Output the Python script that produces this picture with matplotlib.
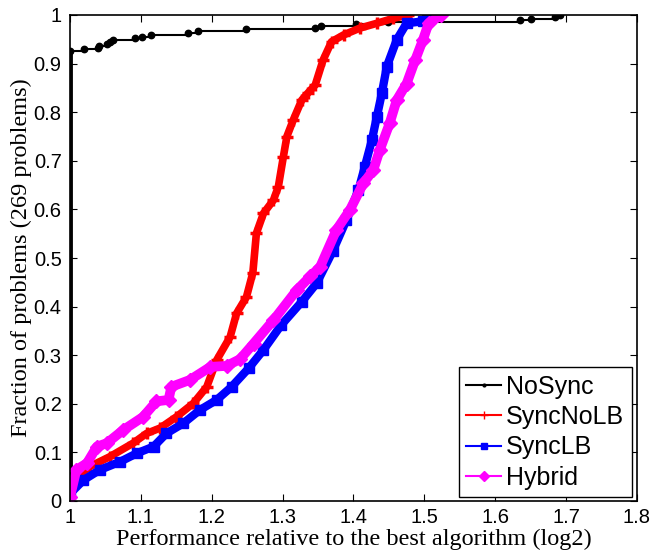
import matplotlib
matplotlib.use("Agg")
import matplotlib.pyplot as plt
from matplotlib.lines import Line2D

n_problems = 269

# NoSync: ratio where each problem gets solved, and the running count
nosync_x = [1.0, 1.0, 1.020, 1.039, 1.041, 1.052, 1.056, 1.060, 1.092, 1.101,
            1.114, 1.167, 1.181, 1.249, 1.345, 1.354, 1.403, 1.448, 1.635,
            1.650, 1.684, 1.691]
nosync_n = [1, 249, 250, 251, 252, 253, 254, 255, 256, 257, 258, 259, 260,
            261, 262, 263, 264, 265, 266, 267, 268, 269]

syncnolb_x = [1.000, 1.010, 1.028, 1.056, 1.089, 1.108, 1.127, 1.150, 1.174,
              1.193, 1.207, 1.226, 1.235, 1.249, 1.258, 1.263, 1.273, 1.287,
              1.294, 1.301, 1.306, 1.315, 1.327, 1.336, 1.346, 1.357, 1.369,
              1.386, 1.409, 1.433, 1.456, 1.477]
syncnolb_y = [0.030, 0.050, 0.071, 0.091, 0.119, 0.139, 0.150, 0.173, 0.201,
              0.235, 0.290, 0.338, 0.386, 0.420, 0.470, 0.551, 0.592, 0.619,
              0.647, 0.708, 0.750, 0.784, 0.825, 0.840, 0.856, 0.907, 0.945,
              0.959, 0.973, 0.983, 0.993, 1.000]

synclb_x = [1.000, 1.019, 1.042, 1.071, 1.094, 1.118, 1.136, 1.160, 1.183,
            1.207, 1.228, 1.252, 1.273, 1.298, 1.327, 1.348, 1.371, 1.390,
            1.407, 1.416, 1.426, 1.433, 1.440, 1.447, 1.461, 1.475, 1.498,
            1.503, 1.508]
synclb_y = [0.015, 0.043, 0.064, 0.081, 0.098, 0.112, 0.139, 0.160, 0.187,
            0.208, 0.235, 0.273, 0.311, 0.362, 0.410, 0.448, 0.515, 0.578,
            0.640, 0.688, 0.743, 0.791, 0.839, 0.894, 0.949, 0.983, 0.987,
            0.996, 1.000]

hybrid_x = [1.000, 1.009, 1.024, 1.038, 1.052, 1.075, 1.103, 1.122, 1.139,
            1.143, 1.169, 1.198, 1.221, 1.240, 1.259, 1.287, 1.320, 1.339,
            1.353, 1.376, 1.395, 1.414, 1.428, 1.437, 1.451, 1.461, 1.475,
            1.487, 1.498, 1.506, 1.524]
hybrid_y = [0.008, 0.064, 0.078, 0.112, 0.119, 0.146, 0.173, 0.205, 0.208,
            0.235, 0.249, 0.276, 0.278, 0.292, 0.324, 0.372, 0.434, 0.462,
            0.482, 0.558, 0.599, 0.654, 0.681, 0.722, 0.777, 0.825, 0.859,
            0.907, 0.949, 0.983, 1.000]

labels = ["NoSync", "SyncNoLB", "SyncLB", "Hybrid"]
colors = ["black", "red", "blue", "magenta"]
markers = [".", "+", "s", "D"]

xticks = [1, 1.1, 1.2, 1.3, 1.4, 1.5, 1.6, 1.7, 1.8]
xticklabels = ["1", "1.1", "1.2", "1.3", "1.4", "1.5", "1.6", "1.7", "1.8"]
yticks = [0, 0.1, 0.2, 0.3, 0.4, 0.5, 0.6, 0.7, 0.8, 0.9, 1]
yticklabels = ["0", "0.1", "0.2", "0.3", "0.4", "0.5", "0.6", "0.7", "0.8",
               "0.9", "1"]

fig = plt.figure(figsize=(6.54, 5.5), dpi=100)
ax = fig.add_axes([70 / 654, 49 / 550, 567 / 654, 486 / 550])

nosync_y = [k / n_problems for k in nosync_n]
# the block of problems solved at ratio 1 shows as a solid bar
ax.plot(nosync_x[:2], nosync_y[:2], color="black", lw=4.2, solid_capstyle="butt")
ax.plot(nosync_x[1:], nosync_y[1:], color="black", lw=1.5,
        drawstyle="steps-post")
ax.plot(nosync_x[1:], nosync_y[1:], ls="none", color="black", marker="o", ms=4.6)

ax.plot(syncnolb_x, syncnolb_y, color="red", lw=5.5, marker="+", ms=9,
        mew=2.5, solid_joinstyle="round")
ax.plot(synclb_x, synclb_y, color="blue", lw=6, marker="s", ms=6.5,
        solid_joinstyle="round")
ax.plot(hybrid_x, hybrid_y, color="magenta", lw=7, marker="D", ms=7.5,
        solid_joinstyle="round")

ax.set_xlim(1, 1.8)
ax.set_ylim(0, 1)
ax.set_xticks(xticks)
ax.set_xticklabels(xticklabels)
ax.set_yticks(yticks)
ax.set_yticklabels(yticklabels)
ax.tick_params(direction="in", top=True, right=True, length=5, width=0.8,
               labelsize=14.5)
ax.tick_params(axis="x", pad=5)
ax.tick_params(axis="y", pad=6)
for lbl in ax.get_xticklabels() + ax.get_yticklabels():
    lbl.set_family("Liberation Sans")
for sp in ax.spines.values():
    sp.set_linewidth(1.2)

ax.set_xlabel("Performance relative to the best algorithm (log2)",
              family="Liberation Serif", fontsize=17.5, labelpad=1)
ax.set_ylabel("Fraction of problems (269 problems)",
              family="Liberation Serif", fontsize=17.5, labelpad=1)

handles = [Line2D([], [], color=c, marker=m, lw=1.5, ms=ms)
           for c, m, ms in zip(colors, markers, [4, 6, 4, 5])]
leg = ax.legend(handles, labels, loc="lower right",
                bbox_to_anchor=(0.991, 0.008), borderaxespad=0,
                prop={"family": "Liberation Sans", "size": 18},
                fancybox=False, edgecolor="black", framealpha=1,
                handlelength=1.4, handletextpad=0.2, labelspacing=0.25,
                borderpad=0.3)
leg.get_frame().set_linewidth(1.0)

fig.savefig("out.png", dpi=100)
